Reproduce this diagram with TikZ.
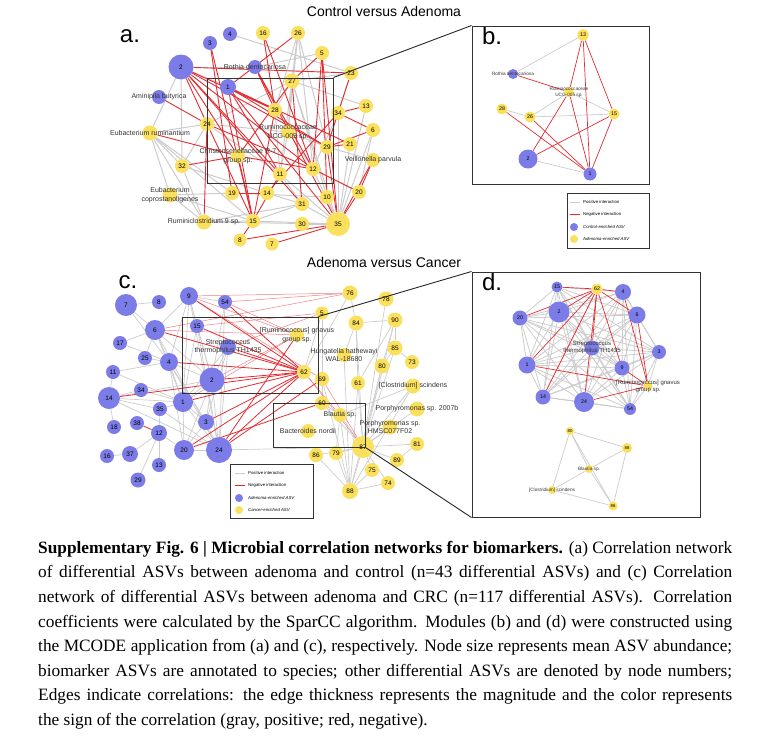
\documentclass[tikz,border=0pt]{standalone}
\usepackage{fontspec}
\setmainfont{Liberation Serif}
\setsansfont{Liberation Sans}
\usetikzlibrary{positioning}
\definecolor{ctlblue}{RGB}{124,124,232}
\definecolor{adnyellow}{RGB}{250,224,92}
\definecolor{negred}{RGB}{226,44,50}
\definecolor{posgray}{RGB}{204,204,204}
\pgfdeclarelayer{edges}
\pgfsetlayers{edges,main}
\tikzset{
  ctl/.style={circle,fill=ctlblue,inner sep=0pt,minimum size=#1pt},
  adn/.style={circle,fill=adnyellow,inner sep=0pt,minimum size=#1pt},
  posline/.style={draw=posgray,line width=1pt},
  negline/.style={draw=negred,line width=0.9pt},
  negfaint/.style={draw=negred!60,line width=0.5pt},
  spc/.style={align=center,font=\sffamily\fontsize{7}{8.5}\selectfont,text=black!80,inner sep=0pt},
  spcm/.style={align=center,font=\sffamily\fontsize{6}{7}\selectfont,text=black!80,inner sep=0pt},
  spcs/.style={align=center,font=\sffamily\fontsize{4.7}{5.7}\selectfont,text=black!80,inner sep=0pt},
  zoombox/.style={draw=black!80,line width=1pt,inner sep=0pt},
  panel/.style={font=\sffamily\fontsize{24}{24}\selectfont,inner sep=0pt},
  title/.style={font=\sffamily\fontsize{14}{14}\selectfont,inner sep=0pt},
  legtxt/.style={font=\sffamily\fontsize{4.3}{5}\selectfont,anchor=west,inner sep=0pt},
}

\begin{document}
\begin{tikzpicture}[x=1pt,y=-1pt]
  \useasboundingbox (0,0) rectangle (773,747);

  % titles and panel letters
  \node[title] (ta) at (384,11) {Control versus Adenoma};
  \node[title] (tc) at (384,262) {Adenoma versus Cancer};
  \node[panel] (la) at (130,36) {a.};
  \node[panel] (lb) at (492,36) {b.};
  \node[panel] (lc) at (128,282) {c.};
  \node[panel] (ld) at (492,282) {d.};

  % panel a
  \begin{scope}[every node/.append style={font=\sffamily\fontsize{6.5}{7}\selectfont}]
  \node[ctl=16] (a1) at (228,87) {1};
  \node[ctl=25] (a2) at (181,67) {2};
  \node[ctl=14] (a3) at (210,43) {3};
  \node[ctl=14] (a4) at (230,34) {4};
  \node[ctl=14,label={[spc]center:Rothia dentocariosa}] (aRd) at (255,67) {};
  \node[ctl=14,label={[spc]center:Aminipila butyrica}] (aAb) at (159,97) {};
  \node[adn=14] (a16) at (263,33) {16};
  \node[adn=14] (a26) at (298,33) {26};
  \node[adn=14] (a5) at (322,53) {5};
  \node[adn=15] (a27) at (292,81) {27};
  \node[adn=14] (a23) at (351,73) {23};
  \node[adn=14] (a13) at (366,106) {13};
  \node[adn=14] (a34) at (338,113) {34};
  \node[adn=14] (a6) at (373,130) {6};
  \node[adn=14] (a28) at (275,110) {28};
  \node[adn=14] (a24) at (207,124) {24};
  \node[adn=15,label={[spc]center:Eubacterium ruminantium}] (aEr) at (150,133) {};
  \node[adn=14,label={[spc]center:Ruminococcaceae\\UCG-005 sp.}] (aRu) at (288,132) {};
  \node[adn=14,label={[spc]center:Christensenellaceae R-7\\group sp.}] (aCh) at (238,156) {};
  \node[adn=14] (a29) at (327,147) {29};
  \node[adn=14] (a21) at (350,144) {21};
  \node[adn=14,label={[spc]center:Veillonella parvula}] (aVp) at (373,160) {};
  \node[adn=14] (a32) at (182,166) {32};
  \node[adn=14] (a11) at (280,174) {11};
  \node[adn=14] (a12) at (313,169) {12};
  \node[adn=14] (a19) at (232,193) {19};
  \node[adn=14] (a14) at (267,193) {14};
  \node[adn=15,label={[spc]center:Eubacterium\\coprostanoligenes}] (aEc) at (170,195) {};
  \node[adn=14] (a20) at (359,192) {20};
  \node[adn=14] (a10) at (327,197) {10};
  \node[adn=14] (a31) at (302,204) {31};
  \node[adn=15,label={[spc]center:Ruminiclostridium 9 sp.}] (aRc) at (204,222) {};
  \node[adn=14] (a15) at (253,221) {15};
  \node[adn=14] (a30) at (302,224) {30};
  \node[adn=24] (a35) at (338,224) {35};
  \node[adn=13] (a8) at (240,240) {8};
  \node[adn=13] (a7) at (272,244) {7};
  \end{scope}

  \begin{pgfonlayer}{edges}
  \foreach \u/\v in {a4/a23,a2/a1,a2/aEr,a2/a32,a2/aRd,a26/a27,a26/a28,a26/aRu,a26/a11,a26/a12,
      a5/aRd,a23/a27,a23/a34,a27/a13,a27/a28,a27/aRu,aEr/a24,aEr/a32,aEr/aRc,aEr/a19,aEr/aEc,
      aEr/a15,a24/a27,a24/aRu,a24/a11,a24/a32,a32/aRc,a32/a14,aEc/a15,aEc/aRc,aEc/a19,aRc/a15,
      aRc/a35,aRc/a31,a19/a10,a14/a31,a11/a31,a11/a35,a15/a35,a15/a31,a31/a35,a30/a35,a10/a35,
      a12/a35,a6/a20,a6/a35,a13/a35,aVp/a29,a28/a11,aRu/a29,aRu/a12,aRu/a11,a34/a35,a34/a12,
      a21/a35,a26/a29,a27/a10,a27/a35}
    \draw[posline] (\u) -- (\v);
  \foreach \u/\v in {a2/a23,a2/a24,a2/a28,a2/a12,a2/a11,a2/a29,a2/aCh,a2/a31,a3/a19,a3/a15,
      a16/a12,a16/a28,a26/a1,a5/a27,a5/a12,a5/a10,a5/a35,aRd/a28,aRd/a12,aRd/a35,a1/a28,a1/a29,
      a1/a15,a1/a35,a1/a11,a1/a21,aAb/a24,a27/a31,a27/aCh,a34/a13,a34/a6,a34/a14,a23/a29,
      a28/a15,a24/a15,a24/aRc,a24/a12,aEr/aCh,a32/aCh,a19/a14,aCh/a15,aCh/a12,a29/a21,a29/a35,
      a12/a20,aVp/a35,aVp/a20,a20/a35,a15/a8,a11/a15,a7/a35,a8/a35,a6/a29}
    \draw[negline] (\u) -- (\v);
  \end{pgfonlayer}

  % panel b
  \begin{scope}[every node/.append style={font=\sffamily\fontsize{5.3}{6}\selectfont}]
  \node[adn=11.5] (b13) at (583,35) {13};
  \node[ctl=10,label={[spcs]center:Rothia dentocariosa}] (bRd) at (513,74) {};
  \node[adn=10,label={[spcs]center:Ruminococcaceae\\UCG-005 sp.}] (bRu) at (569,92) {};
  \node[adn=11] (b28) at (502,109) {28};
  \node[adn=11] (b26) at (530,117) {26};
  \node[adn=11] (b15) at (614,114) {15};
  \node[ctl=19] (b2) at (528,159) {2};
  \node[ctl=13] (b1) at (590,174) {1};
  \end{scope}
  \begin{pgfonlayer}{edges}
  \foreach \u/\v in {b13/bRd,bRu/b26,bRu/b15,b26/b15,b28/b26,b2/b1}
    \draw[posline,line width=0.7pt] (\u) -- (\v);
  \foreach \u/\v in {b13/bRu,b13/b1,b13/b15,bRd/bRu,bRu/b2,bRu/b1,b28/b1,b26/b1,b2/b15,b15/b1}
    \draw[negline,line width=0.7pt] (\u) -- (\v);
  \end{pgfonlayer}

  % panel c
  \begin{scope}[every node/.append style={font=\sffamily\fontsize{6.5}{7}\selectfont}]
  \node[ctl=22] (c7) at (126,305) {7};
  \node[ctl=14] (c8) at (159,302) {8};
  \node[ctl=18] (c9) at (189,296) {9};
  \node[ctl=14] (c54) at (225,302) {54};
  \node[ctl=14] (c15) at (197,326) {15};
  \node[ctl=20] (c6) at (155,330) {6};
  \node[ctl=14] (c17) at (120,343) {17};
  \node[ctl=14] (c25) at (145,358) {25};
  \node[ctl=18] (c4) at (169,362) {4};
  \node[ctl=16,label={[spc]center:Streptococcus\\thermophilus TH1435}] (cSt) at (228,347) {};
  \node[ctl=14] (c11) at (113,372) {11};
  \node[ctl=25] (c2) at (212,380) {2};
  \node[ctl=14] (c34) at (141,390) {34};
  \node[ctl=22] (c14) at (109,398) {14};
  \node[ctl=20] (c1) at (183,402) {1};
  \node[ctl=14] (c35) at (160,409) {35};
  \node[ctl=16] (c3) at (206,422) {3};
  \node[ctl=14] (c18) at (114,427) {18};
  \node[ctl=14] (c38) at (137,423) {38};
  \node[ctl=16] (c12) at (159,433) {12};
  \node[ctl=20] (c20) at (184,450) {20};
  \node[ctl=26] (c24) at (219,450) {24};
  \node[ctl=14] (c16) at (107,456) {16};
  \node[ctl=16] (c37) at (130,454) {37};
  \node[ctl=14] (c13) at (159,465) {13};
  \node[ctl=15] (c29) at (138,480) {29};
  \node[adn=15] (c76) at (350,293) {76};
  \node[adn=15] (c78) at (386,299) {78};
  \node[adn=13] (c5) at (322,313) {5};
  \node[adn=15] (c84) at (356,323) {84};
  \node[adn=15] (c90) at (395,320) {90};
  \node[adn=14,label={[spc]center:[Ruminococcus] gnavus\\group sp.}] (cRg) at (297,335) {};
  \node[adn=14,label={[spc]center:Hungatella hathewayi\\WAL-18680}] (cHh) at (344,355) {};
  \node[adn=15] (c85) at (395,348) {85};
  \node[adn=14] (c73) at (412,362) {73};
  \node[adn=15] (c80) at (382,366) {80};
  \node[adn=14] (c62) at (304,372) {62};
  \node[adn=14] (c69) at (322,379) {69};
  \node[adn=14] (c61) at (358,383) {61};
  \node[adn=15,label={[spc]center:[Clostridium] scindens}] (cCs) at (413,386) {};
  \node[adn=14] (c60) at (322,403) {60};
  \node[adn=15,label={[spc]center:Porphyromonas sp. 2007b}] (cPb) at (417,409) {};
  \node[adn=14,label={[spc]center:Blautia sp.}] (cBl) at (340,415) {};
  \node[adn=15,label={[spc]center:Porphyromonas sp.\\HMSC077F02}] (cPh) at (390,427) {};
  \node[adn=14,label={[spc]center:Bacteroides nordii}] (cBn) at (308,431) {};
  \node[adn=22] (c87) at (363,447) {87};
  \node[adn=14] (c81) at (417,444) {81};
  \node[adn=14] (c86) at (316,455) {86};
  \node[adn=14] (c79) at (336,453) {79};
  \node[adn=14] (c89) at (397,460) {89};
  \node[adn=14] (c75) at (372,470) {75};
  \node[adn=14] (c74) at (388,483) {74};
  \node[adn=16] (c88) at (350,491) {88};
  \end{scope}

  \begin{pgfonlayer}{edges}
  \foreach \u/\v in {c7/c8,c7/c6,c7/c4,c9/c6,c9/c4,c9/c2,c9/c1,c9/c24,c9/c15,c9/c54,c54/c2,
      c54/c24,c15/c2,c15/c24,c15/c1,c6/c4,c6/c2,c6/c24,c6/c1,c6/c17,c6/c25,c17/c4,c25/c4,c4/c2,
      c4/c1,c4/c24,c4/c20,c4/c3,cSt/c2,cSt/c24,cSt/c1,cSt/c3,c11/c4,c11/c1,c11/c14,c2/c1,c2/c24,
      c2/c3,c2/c20,c14/c1,c14/c34,c14/c24,c14/c2,c14/c35,c1/c24,c1/c20,c1/c3,c35/c24,c35/c1,
      c3/c24,c3/c20,c12/c13,c12/c20,c12/c35,c37/c12,c16/c37,c29/c12,c20/c24,c34/c1,c18/c14,
      c76/c62,c76/c84,c78/c87,c5/c62,c5/c69,c84/c90,c84/c61,c84/c87,c84/cHh,c90/c80,c90/c85,
      c90/c87,c90/c61,c85/c73,c85/c80,c85/c87,c80/c87,c80/c88,c61/c87,c61/c88,cCs/c87,cCs/c88,
      cCs/cBl,cBl/c87,cBl/c88,cBl/c60,cBl/c79,c60/c87,c60/c69,c69/c88,c87/c88,c87/c75,c87/c89,
      c87/c81,c87/c79,c87/c86,c87/cPh,c87/cPb,c88/c79,c88/c86,c88/c74,c88/c75,c74/c87,c89/c81,
      cHh/c88,c24/c87}
    \draw[posline,line width=0.7pt] (\u) -- (\v);
  \foreach \u/\v in {c9/c76,c9/cRg,c54/c76,c15/c5,cSt/c5,c2/cRg,c1/cRg,c54/cRg,c6/cRg,
      c62/cBl,c62/c87,c69/c87,c9/c69,c6/c76}
    \draw[negfaint] (\u) -- (\v);
  \foreach \u/\v in {c9/c62,c54/c62,c15/c62,c6/c62,c4/c62,cSt/c62,c2/c62,c1/c62,c14/c62,
      c3/c62,c24/c62,c24/cRg,c24/c69,c20/c60,c38/c12,c20/c62}
    \draw[negline,line width=0.8pt] (\u) -- (\v);
  \end{pgfonlayer}

  % panel d
  \begin{scope}[every node/.append style={font=\sffamily\fontsize{5.3}{6}\selectfont}]
  \node[ctl=11] (d15) at (557,287) {15};
  \node[adn=11] (d62) at (597,289) {62};
  \node[ctl=16] (d4) at (623,292) {4};
  \node[ctl=15] (d20) at (520,318) {20};
  \node[ctl=21] (d2) at (559,312) {2};
  \node[ctl=17] (d6) at (637,315) {6};
  \node[ctl=15,label={[spcm]center:Streptococcus\\thermophilus TH1435}] (dSt) at (592,348) {};
  \node[ctl=14] (d3) at (659,352) {3};
  \node[ctl=17] (d1) at (527,365) {1};
  \node[ctl=15] (d9) at (622,368) {9};
  \node[adn=9,label={[spcm]center:[Ruminococcus] gnavus\\group sp.}] (dRg) at (648,386) {};
  \node[ctl=15] (d14) at (543,397) {14};
  \node[ctl=20] (d24) at (584,402) {24};
  \node[ctl=12] (d54) at (630,409) {54};
  \node[adn=8,font=\sffamily\fontsize{4.3}{5}\selectfont] (d80) at (570,431) {80};
  \node[adn=10,font=\sffamily\fontsize{4.3}{5}\selectfont] (d88) at (627,448) {88};
  \node[adn=8,label={[spcs]center:Blautia sp.}] (dBl) at (589,469) {};
  \node[adn=8,label={[spcs]center:[Clostridium] scindens}] (dCs) at (552,490) {};
  \node[adn=9,font=\sffamily\fontsize{4.3}{5}\selectfont] (d86) at (613,506) {86};
  \end{scope}

  \begin{pgfonlayer}{edges}
  \foreach \u [count=\i] in {d15,d4,d20,d2,d6,dSt,d3,d1,d9,d14,d24,d54}
    \foreach \v [count=\j] in {d15,d4,d20,d2,d6,dSt,d3,d1,d9,d14,d24,d54}
      {\ifnum\j>\i \draw[posline,line width=0.8pt] (\u) -- (\v); \fi}
  \foreach \u/\v in {dRg/d3,dRg/d54,d80/d88,d80/dBl,d80/d86,d80/dCs,d88/dBl,d88/d86,dBl/dCs,
      dBl/d86,dCs/d86}
    \draw[posline,line width=0.7pt] (\u) -- (\v);
  \foreach \u/\v in {d62/d15,d62/d20,d62/d2,d62/d4,d62/d6,d62/dSt,d62/d1,d62/d14,d62/d24,
      d62/d9,dRg/d24,dRg/d1,dRg/d6,dRg/d4,dRg/d9}
    \draw[negline,line width=0.7pt] (\u) -- (\v);
  \end{pgfonlayer}

  % boxes and zoom lines
  \node[zoombox,minimum width=126pt,minimum height=105pt] (boxa) at (270,130.5) {};
  \node[zoombox,minimum width=177pt,minimum height=158pt] (pb) at (560.5,105) {};
  \node[zoombox,minimum width=136pt,minimum height=76pt] (boxc) at (250,355) {};
  \node[zoombox,minimum width=92pt,minimum height=44pt] (boxn) at (319,425) {};
  \node[zoombox,minimum width=228pt,minimum height=245pt] (pd) at (586,394.5) {};
  \draw[black!85,line width=0.9pt] (boxa.north east) -- (pb.north west);
  \draw[black!85,line width=0.9pt] (boxc.north east) -- (pd.north west);
  \draw[black!85,line width=0.9pt] (boxn.south east) -- (pd.south west);

  % legends
  \node[zoombox,fill=white,minimum width=82pt,minimum height=55pt] (legb) at (608,220.5) {};
  \node[zoombox,fill=white,minimum width=83pt,minimum height=54pt] (legc) at (271.5,491) {};
  \foreach \x/\y/\grp in {570/202/Control,235/473/Adenoma}{
    \coordinate (p0) at (\x,\y);
    \coordinate (p1) at (\x+10,\y);
    \coordinate (n0) at (\x,\y+12);
    \coordinate (n1) at (\x+10,\y+12);
    \draw[posline,line width=0.6pt] (p0) -- (p1);
    \draw[draw=negred,line width=0.5pt] (n0) -- (n1);
    \node[legtxt] at (\x+13,\y) {Positive interaction};
    \node[legtxt] at (\x+13,\y+12) {Negative interaction};
    \node[ctl=8] at (\x+4,\y+25) {};
    \node[legtxt] at (\x+13,\y+25) {\itshape \grp-enriched ASV};
  }
  \node[adn=8] (lby) at (574,239) {};
  \node[legtxt] (lbyt) at (583,239) {\itshape Adenoma-enriched ASV};
  \node[adn=8] (lcy) at (239,510) {};
  \node[legtxt] (lcyt) at (248,510) {\itshape Cancer-enriched ASV};

  % caption
  \node[anchor=north west,inner sep=0pt,text width=694pt,align=justify,
        font=\rmfamily\fontsize{17.3}{24.6}\selectfont] (cap) at (38,541)
  {\textbf{Supplementary Fig. 6 | Microbial correlation networks for biomarkers.} (a) Correlation network\linebreak
   of differential ASVs between adenoma and control (n=43 differential ASVs) and (c) Correlation\linebreak
   network of differential ASVs between adenoma and CRC (n=117 differential ASVs). Correlation\linebreak
   coefficients were calculated by the SparCC algorithm. Modules (b) and (d) were constructed using\linebreak
   the MCODE application from (a) and (c), respectively. Node size represents mean ASV abundance;\linebreak
   biomarker ASVs are annotated to species; other differential ASVs are denoted by node numbers;\linebreak
   Edges indicate correlations: the edge thickness represents the magnitude and the color represents\linebreak
   the sign of the correlation (gray, positive; red, negative).};
\end{tikzpicture}
\end{document}
